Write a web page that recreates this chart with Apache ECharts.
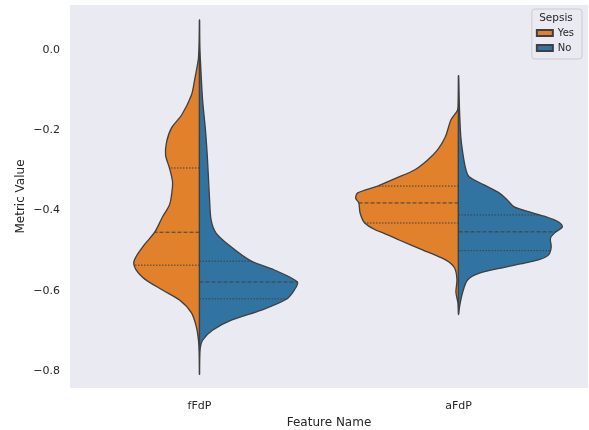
<!DOCTYPE html>
<html>
<head>
<meta charset="utf-8">
<script src="https://cdn.jsdelivr.net/npm/echarts@6/dist/echarts.min.js"></script>
<style>
  html, body { margin: 0; padding: 0; background: #fff; }
  #chart { width: 589px; height: 430px; }
</style>
</head>
<body>
<div id="chart"></div>
<script>
// categories and tick labels
const categories = ['fFdP', 'aFdP'];
const yTicks = [0, -0.2, -0.4, -0.6, -0.8];
const groups = ['Yes', 'No'];

// violin half profiles: [metric value, half width as fraction of the category band]
const fFdPYes = [
  [0.072, 0], [0.025, 0.001], [-0.020, 0.004], [-0.037, 0.008], [-0.075, 0.019],
  [-0.112, 0.031], [-0.162, 0.069], [-0.194, 0.108], [-0.229, 0.127], [-0.262, 0.131],
  [-0.294, 0.116], [-0.329, 0.104], [-0.361, 0.108], [-0.386, 0.116], [-0.416, 0.143],
  [-0.454, 0.173], [-0.491, 0.220], [-0.531, 0.254], [-0.566, 0.220], [-0.598, 0.143],
  [-0.623, 0.077], [-0.655, 0.031], [-0.690, 0.012], [-0.723, 0.004], [-0.755, 0.001],
  [-0.805, 0]
];
const fFdPNo = [
  [0.072, 0], [0.012, 0.001], [-0.032, 0.004], [-0.125, 0.012], [-0.199, 0.023],
  [-0.274, 0.031], [-0.374, 0.039], [-0.424, 0.045], [-0.456, 0.064], [-0.491, 0.123],
  [-0.526, 0.200], [-0.548, 0.289], [-0.578, 0.378], [-0.598, 0.366], [-0.621, 0.335],
  [-0.648, 0.239], [-0.673, 0.123], [-0.698, 0.050], [-0.723, 0.012], [-0.748, 0.002],
  [-0.805, 0]
];
const aFdPYes = [
  [-0.067, 0], [-0.130, 0.001], [-0.150, 0.004], [-0.174, 0.029], [-0.217, 0.051],
  [-0.249, 0.081], [-0.274, 0.119], [-0.299, 0.170], [-0.319, 0.241], [-0.339, 0.312],
  [-0.356, 0.389], [-0.369, 0.397], [-0.381, 0.385], [-0.406, 0.380], [-0.431, 0.362],
  [-0.449, 0.318], [-0.456, 0.289], [-0.474, 0.227], [-0.498, 0.139], [-0.523, 0.050],
  [-0.543, 0.015], [-0.573, 0.006], [-0.603, 0.010], [-0.631, 0.002], [-0.655, 0]
];
const aFdPNo = [
  [-0.067, 0], [-0.150, 0.004], [-0.217, 0.009], [-0.267, 0.019], [-0.299, 0.029],
  [-0.316, 0.041], [-0.336, 0.099], [-0.356, 0.157], [-0.374, 0.189], [-0.391, 0.215],
  [-0.404, 0.277], [-0.414, 0.331], [-0.429, 0.388], [-0.441, 0.401], [-0.454, 0.374],
  [-0.469, 0.355], [-0.491, 0.358], [-0.511, 0.347], [-0.523, 0.308], [-0.533, 0.239],
  [-0.541, 0.181], [-0.556, 0.081], [-0.573, 0.035], [-0.606, 0.015], [-0.640, 0.004],
  [-0.658, 0]
];

// quartiles [Q3, median, Q1] per category
const quartYes = [[-0.294, -0.454, -0.536], [-0.339, -0.381, -0.431]];
const quartNo = [[-0.526, -0.578, -0.620], [-0.411, -0.453, -0.500]];

const colorYes = '#e1812c';
const colorNo = '#3274a1';
const edgeColor = '#3f3f3f';

// half width at value q
function widthAt(prof, q) {
  for (let k = 0; k < prof.length - 1; k++) {
    const a = prof[k], b = prof[k + 1];
    if (q <= a[0] && q >= b[0]) {
      const t = (a[0] - q) / (a[0] - b[0]);
      return a[1] + (b[1] - a[1]) * t;
    }
  }
  return 0;
}

function makeRender(profiles, quarts, side, color) {
  return function (params, api) {
    const i = params.dataIndex;
    const prof = profiles[i];
    const cx = api.coord([i, 0])[0];
    const band = api.size([1, 0])[0];
    const pts = prof.map(p => [cx + side * p[1] * band, api.coord([i, p[0]])[1]]);
    const children = [{
      type: 'polygon',
      shape: { points: pts, smooth: 0.3 },
      style: { fill: color, stroke: edgeColor, lineWidth: 1.3 }
    }];
    quarts[i].forEach((q, k) => {
      const y = api.coord([i, q])[1];
      const w = widthAt(prof, q) * band;
      children.push({
        type: 'line',
        shape: { x1: cx, y1: y, x2: cx + side * w, y2: y },
        style: { stroke: edgeColor, lineWidth: 1, lineDash: k === 1 ? [4, 2] : [1.5, 1.5] }
      });
    });
    return { type: 'group', children: children };
  };
}

const chart = echarts.init(document.getElementById('chart'));

chart.setOption({
  animation: false,
  textStyle: { fontFamily: 'DejaVu Sans' },
  grid: {
    left: 70, right: 1, top: 5, bottom: 42,
    outerBoundsMode: 'none',
    show: true, backgroundColor: '#eaeaf2', borderWidth: 0
  },
  xAxis: {
    type: 'category',
    data: categories,
    name: 'Feature Name',
    nameLocation: 'middle',
    nameGap: 29,
    nameMoveOverlap: false,
    nameTextStyle: { fontSize: 12, color: '#262626' },
    axisLine: { show: false },
    axisTick: { show: false },
    axisLabel: { fontSize: 11, color: '#262626', margin: 13 },
    splitLine: { show: false }
  },
  yAxis: {
    type: 'value',
    min: -0.842,
    max: 0.112,
    name: 'Metric Value',
    nameLocation: 'middle',
    nameGap: 43,
    nameMoveOverlap: false,
    nameTextStyle: { fontSize: 12, color: '#262626' },
    axisLine: { show: false },
    axisTick: { show: false },
    splitLine: { show: false },
    axisLabel: {
      customValues: yTicks,
      fontSize: 11,
      color: '#262626',
      margin: 10,
      formatter: v => (v < 0 ? '\u2212' : '') + Math.abs(v).toFixed(1)
    }
  },
  legend: {
    data: groups,
    orient: 'vertical',
    right: 7,
    top: 9,
    icon: 'rect',
    itemWidth: 16,
    itemHeight: 6,
    itemGap: 3,
    padding: [18, 8, 5, 4],
    backgroundColor: '#eaeaf2',
    borderColor: '#cccccc',
    borderWidth: 1,
    borderRadius: 3,
    textStyle: { fontSize: 10, color: '#262626', lineHeight: 12 }
  },
  graphic: [{
    type: 'text',
    x: 556,
    y: 18,
    z: 100,
    style: {
      text: 'Sepsis',
      fontSize: 10.5,
      fontFamily: 'DejaVu Sans',
      fill: '#262626',
      textAlign: 'center',
      textVerticalAlign: 'middle'
    }
  }],
  series: [
    {
      name: 'Yes',
      type: 'custom',
      data: categories.map((c, i) => [i, 0]),
      encode: { x: 0, y: 1 },
      itemStyle: { color: colorYes, borderColor: edgeColor, borderWidth: 1 },
      renderItem: makeRender([fFdPYes, aFdPYes], quartYes, -1, colorYes)
    },
    {
      name: 'No',
      type: 'custom',
      data: categories.map((c, i) => [i, 0]),
      encode: { x: 0, y: 1 },
      itemStyle: { color: colorNo, borderColor: edgeColor, borderWidth: 1 },
      renderItem: makeRender([fFdPNo, aFdPNo], quartNo, 1, colorNo)
    }
  ]
});
</script>
</body>
</html>
